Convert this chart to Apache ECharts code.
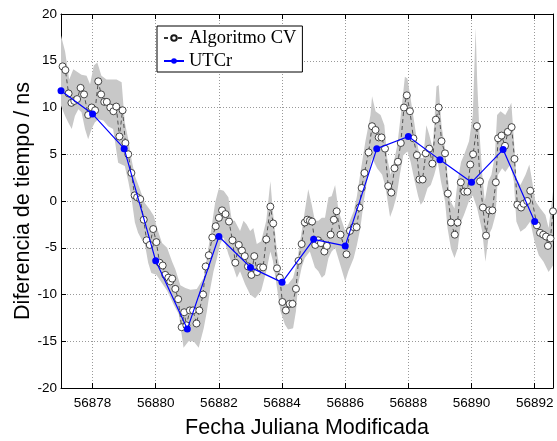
<!DOCTYPE html>
<html>
<head>
<meta charset="utf-8">
<script src="https://cdn.jsdelivr.net/npm/echarts@6/dist/echarts.min.js"></script>
<style>html,body{margin:0;padding:0;background:#fff}#chart{width:557px;height:441px}</style>
</head>
<body>
<div id="chart"></div>
<script>
// ---- Data ----
const cvMJD = [
  56877.05, 56877.14, 56877.24, 56877.33, 56877.42, 56877.51, 56877.62, 56877.73, 56877.86, 56877.97,
  56878.08, 56878.18, 56878.27, 56878.37, 56878.45, 56878.56, 56878.66, 56878.75, 56878.85, 56878.95,
  56879.04, 56879.13, 56879.23, 56879.33, 56879.41, 56879.51, 56879.62, 56879.71, 56879.81, 56879.92,
  56880.02, 56880.12, 56880.22, 56880.30, 56880.40, 56880.46, 56880.52, 56880.62, 56880.71, 56880.82, 56880.90, 56880.97,
  56881.08, 56881.18, 56881.29, 56881.38, 56881.50, 56881.58, 56881.68, 56881.79, 56881.90,
  56882.00, 56882.10, 56882.21, 56882.32, 56882.43, 56882.52, 56882.63, 56882.73, 56882.82, 56882.92,
  56883.03, 56883.12, 56883.21, 56883.31, 56883.40, 56883.50, 56883.63, 56883.72, 56883.84, 56883.93,
  56884.01, 56884.12, 56884.24, 56884.33, 56884.44, 56884.52, 56884.62, 56884.72, 56884.80, 56884.88, 56884.95,
  56885.05, 56885.14, 56885.23, 56885.34, 56885.42, 56885.54, 56885.64, 56885.73, 56885.85,
  56886.04, 56886.15, 56886.27, 56886.36, 56886.45, 56886.52, 56886.61, 56886.74, 56886.85, 56886.96,
  56887.06, 56887.15, 56887.26, 56887.36, 56887.46, 56887.56, 56887.67, 56887.76, 56887.86, 56887.95,
  56888.05, 56888.16, 56888.27, 56888.35, 56888.45, 56888.55, 56888.66, 56888.76, 56888.87, 56888.96,
  56889.05, 56889.16, 56889.25, 56889.35, 56889.47, 56889.56, 56889.66, 56889.77, 56889.87, 56889.96,
  56890.05, 56890.17, 56890.27, 56890.36, 56890.46, 56890.56, 56890.66, 56890.77, 56890.84, 56890.95,
  56891.06, 56891.15, 56891.27, 56891.36, 56891.45, 56891.57, 56891.65, 56891.76, 56891.86,
  56892.07, 56892.17, 56892.27, 56892.36, 56892.42, 56892.50, 56892.58
];
const cvValues = [
  14.4, 14.0, 11.5, 10.5, 10.7, 10.9, 12.1, 11.4, 9.2, 10.0,
  9.7, 12.8, 11.4, 10.6, 10.6, 10.0, 9.6, 10.1, 6.9, 9.7,
  6.2, 5.0, 3.0, 0.6, 0.4, 0.2, -2.0, -4.2, -4.7, -3.0,
  -4.4, -6.6, -6.9, -7.9, -8.2, -8.6, -8.3, -9.4, -10.5, -13.5, -11.9, -13.3,
  -11.7, -11.7, -13.1, -11.7, -10.0, -7.0, -5.8, -3.9, -2.7,
  -1.8, -1.0, -1.4, -2.2, -4.2, -6.6, -4.7, -5.3, -5.9, -7.0,
  -7.9, -5.9, -7.6, -7.1, -7.1, -4.1, -0.6, -2.4, -7.2, -8.2,
  -10.8, -11.7, -11.0, -11.0, -9.4, -6.4, -4.6, -2.3, -2.0, -2.1, -2.2,
  -4.7, -4.2, -4.5, -5.4, -4.8, -3.6, -2.0, -1.1, -3.6,
  -5.7, -3.2, -2.8, -2.8, -0.7, 1.4, 3.0, 5.2, 8.0, 7.6,
  6.8, 6.8, 5.6, 1.6, 0.9, 3.5, 4.2, 6.2, 10.0, 11.3,
  9.6, 6.7, 4.9, 2.3, 2.3, 5.1, 5.6, 4.0, 8.7, 10.0,
  6.4, 5.1, 0.8, -2.3, -3.6, -2.3, 2.0, 1.0, 1.0, 3.9,
  5.0, 8.0, 2.1, -0.7, -3.7, -1.0, -1.0, 2.0, 6.7, 7.0,
  5.9, 7.4, 7.9, 4.5, -0.4, -0.7, -0.3, 0.0, 1.1,
  -2.6, -3.4, -3.6, -3.8, -4.8, -4.0, -1.1
];
const utcrMJD = [56877, 56878, 56879, 56880, 56881, 56882, 56883, 56884, 56885, 56886, 56887, 56888, 56889, 56890, 56891, 56892];
const utcrValues = [11.8, 9.3, 5.6, -6.4, -13.7, -3.8, -7.1, -8.7, -4.1, -4.8, 5.6, 6.9, 4.4, 2.0, 5.5, -2.2];

const bandTopMJD = [
  56877.00, 56877.13, 56877.26, 56877.39, 56877.52, 56877.65, 56877.81, 56877.92, 56878.04, 56878.15,
  56878.28, 56878.44, 56878.60, 56878.76, 56878.92, 56879.02, 56879.13, 56879.23, 56879.34, 56879.50,
  56879.65, 56879.81, 56879.94, 56880.05, 56880.20, 56880.36, 56880.52, 56880.62, 56880.78, 56880.94,
  56881.10, 56881.30, 56881.52, 56881.62, 56881.78, 56881.88, 56881.99, 56882.15, 56882.30, 56882.41,
  56882.50, 56882.67, 56882.78, 56882.88, 56882.99, 56883.09, 56883.20, 56883.34, 56883.50, 56883.63,
  56883.71, 56883.84, 56883.95, 56884.03, 56884.19, 56884.35, 56884.46, 56884.56, 56884.72, 56884.83,
  56884.94, 56885.04, 56885.15, 56885.26, 56885.36, 56885.47, 56885.57, 56885.68, 56885.79, 56885.89,
  56886.00, 56886.10, 56886.27, 56886.37, 56886.48, 56886.64, 56886.80, 56886.85, 56886.96, 56887.12,
  56887.24, 56887.33, 56887.44, 56887.54, 56887.65, 56887.76, 56887.89, 56887.97, 56888.07, 56888.20,
  56888.31, 56888.39, 56888.47, 56888.57, 56888.66, 56888.77, 56888.89, 56888.96, 56889.05, 56889.16,
  56889.24, 56889.33, 56889.46, 56889.56, 56889.67, 56889.76, 56889.92, 56890.04, 56890.13, 56890.18,
  56890.25, 56890.34, 56890.42, 56890.53, 56890.63, 56890.74, 56890.81, 56890.92, 56891.07, 56891.18,
  56891.26, 56891.34, 56891.42, 56891.55, 56891.71, 56891.83, 56891.92, 56892.02, 56892.18, 56892.34,
  56892.44, 56892.58
];
const bandTopValues = [
  17.7, 16.0, 13.0, 14.1, 13.8, 13.5, 13.4, 12.5, 14.5, 14.8,
  13.4, 13.0, 13.0, 13.0, 12.7, 8.4, 6.6, 4.5, 2.7, 1.25,
  -0.2, -0.9, -1.6, -3.0, -4.5, -5.0, -6.5, -7.3, -9.0, -9.3,
  -9.5, -9.4, -8.2, -6.1, -2.5, -0.2, 1.25, 1.1, 0.4, -2.1,
  -2.1, -3.2, -2.1, -2.5, -3.2, -2.9, -4.6, -4.3, -2.1, 2.1,
  -1.1, -5.4, -7.9, -8.9, -8.9, -8.2, -6.8, -4.6, -1.1, 1.25,
  -0.4, -2.1, -2.1, -1.8, -1.8, 0.4, 0.5, 1.7, -1.1, -2.1,
  -3.2, -2.5, -1.1, 0.5, 3.0, 6.4, 9.2, 11.2, 9.6, 9.2,
  8.1, 4.6, 2.8, 4.2, 6.0, 9.2, 13.3, 13.1, 11.0, 8.1,
  5.6, 4.6, 4.6, 8.1, 7.1, 5.6, 12.25, 12.4, 8.1, 5.6,
  2.8, 0.0, -0.8, 2.1, 4.2, 4.9, 6.4, 9.2, 18.5, 12.8,
  7.4, 2.8, 0.0, 2.1, 2.8, 4.9, 9.2, 9.6, 9.2, 9.9,
  10.5, 6.7, 2.4, 1.7, 2.8, 3.9, 2.1, 0.0, -0.8, -1.5,
  -2.9, 1.0
];
const bandBottomMJD = [
  56877.00, 56877.13, 56877.23, 56877.34, 56877.44, 56877.55, 56877.65, 56877.76, 56877.86, 56877.97,
  56878.07, 56878.18, 56878.34, 56878.49, 56878.65, 56878.81, 56878.92, 56879.02, 56879.13, 56879.23,
  56879.34, 56879.44, 56879.55, 56879.65, 56879.76, 56879.86, 56880.02, 56880.20, 56880.36, 56880.57,
  56880.73, 56880.88, 56881.04, 56881.20, 56881.36, 56881.52, 56881.62, 56881.73, 56881.83, 56881.94,
  56882.04, 56882.15, 56882.30, 56882.46, 56882.57, 56882.67, 56882.83, 56882.99, 56883.15, 56883.34,
  56883.50, 56883.63, 56883.71, 56883.84, 56883.95, 56884.09, 56884.19, 56884.35, 56884.44, 56884.51,
  56884.62, 56884.72, 56884.88, 56885.04, 56885.15, 56885.26, 56885.36, 56885.47, 56885.57, 56885.68,
  56885.84, 56886.00, 56886.10, 56886.27, 56886.37, 56886.48, 56886.59, 56886.69, 56886.85, 56887.01,
  56887.17, 56887.28, 56887.42, 56887.52, 56887.63, 56887.73, 56887.84, 56887.97, 56888.07, 56888.20,
  56888.31, 56888.39, 56888.48, 56888.61, 56888.71, 56888.82, 56888.93, 56889.03, 56889.16, 56889.24,
  56889.35, 56889.46, 56889.56, 56889.67, 56889.76, 56889.92, 56890.04, 56890.18, 56890.34, 56890.44,
  56890.55, 56890.65, 56890.76, 56890.84, 56890.97, 56891.07, 56891.23, 56891.34, 56891.42, 56891.55,
  56891.71, 56891.86, 56892.00, 56892.13, 56892.28, 56892.44, 56892.58
];
const bandBottomValues = [
  10.2, 9.1, 8.4, 7.7, 9.1, 9.8, 9.5, 7.7, 6.6, 7.7,
  8.4, 8.75, 8.6, 8.0, 7.7, 4.1, 3.9, 3.75, 2.1, 0.36,
  -2.3, -3.4, -4.1, -4.5, -6.6, -7.7, -7.9, -8.8, -9.6, -11.1,
  -12.1, -15.7, -15.0, -15.0, -15.7, -13.6, -11.8, -9.3, -7.5, -6.1,
  -4.6, -3.9, -5.7, -7.1, -8.2, -7.5, -8.9, -10.0, -10.4, -9.6,
  -7.5, -5.4, -6.4, -9.3, -11.8, -13.2, -13.75, -13.6, -11.8, -8.9,
  -7.1, -6.1, -5.4, -7.1, -7.5, -8.2, -7.9, -6.1, -5.4, -5.0,
  -6.8, -8.6, -7.5, -6.1, -4.7, -2.9, 0.0, 2.1, 4.6, 3.5,
  2.8, 1.4, -1.7, -0.8, 0.6, 2.8, 4.9, 5.3, 4.2, 2.1,
  0.5, -0.4, 0.0, 1.4, 1.7, 2.8, 4.2, 2.1, 0.0, -2.9,
  -5.1, -6.1, -5.1, -2.2, -1.5, 0.0, 0.6, -0.8, -3.3, -6.5,
  -3.6, -2.9, -1.5, 2.8, 3.5, 3.1, 3.9, 2.1, -2.2, -3.3,
  -2.9, -2.2, -4.4, -5.8, -6.5, -7.6, -6.9
];
const xTicks = [56878, 56880, 56882, 56884, 56886, 56888, 56890, 56892];
const xMin = 56877, xMax = 56892.58;
const yMin = -20, yMax = 20, yStep = 5;

// ---- Chart ----
const chart = echarts.init(document.getElementById('chart'), null, {renderer: 'canvas'});
const sans = 'Liberation Sans, Arial, Helvetica, sans-serif';
const cvData = cvMJD.map((t, i) => [t, cvValues[i]]);
const utcrData = utcrMJD.map((t, i) => [t, utcrValues[i]]);

const option = {
  animation: false,
  backgroundColor: '#fff',
  grid: {left: 61, top: 14, right: 4, bottom: 53, containLabel: false, outerBoundsMode: 'none'},
  legend: {
    left: 157, top: 26, orient: 'vertical',
    data: ['Algoritmo CV', 'UTCr'],
    backgroundColor: '#fff', borderColor: '#000', borderWidth: 1,
    padding: [2, 6, 1, 6], itemWidth: 20, itemHeight: 7, itemGap: 3,
    textStyle: {fontFamily: 'Liberation Serif, Times New Roman, serif', fontSize: 18.5, color: '#000', lineHeight: 20}
  },
  xAxis: [{
    type: 'value', min: xMin, max: xMax, position: 'bottom',
    axisLine: {show: true, onZero: false, lineStyle: {color: '#000', width: 1}},
    axisTick: {show: true, inside: true, length: 5, customValues: xTicks, lineStyle: {color: '#000'}},
    axisLabel: {customValues: xTicks, formatter: v => String(v), color: '#000', fontSize: 13.5, fontFamily: sans, margin: 8},
    splitLine: {show: true, lineStyle: {type: [1, 2], color: '#999', width: 1}},
    name: 'Fecha Juliana Modificada', nameLocation: 'middle', nameGap: 29, nameMoveOverlap: false,
    nameTextStyle: {fontSize: 21.5, fontFamily: sans, color: '#000'}
  }, {
    type: 'value', min: xMin, max: xMax, position: 'top',
    axisLine: {show: true, onZero: false, lineStyle: {color: '#000', width: 1}},
    axisTick: {show: true, inside: true, length: 5, customValues: xTicks, lineStyle: {color: '#000'}},
    axisLabel: {show: false, customValues: xTicks},
    splitLine: {show: false}
  }],
  yAxis: [{
    type: 'value', min: yMin, max: yMax, interval: yStep, position: 'left',
    axisLine: {show: true, onZero: false, lineStyle: {color: '#000', width: 1}},
    axisTick: {show: true, inside: true, length: 5, lineStyle: {color: '#000'}},
    axisLabel: {color: '#000', fontSize: 13.5, fontFamily: sans, margin: 4},
    splitLine: {show: true, lineStyle: {type: [1, 2], color: '#999', width: 1}},
    name: 'Diferencia de tiempo / ns', nameLocation: 'middle', nameGap: 27, nameMoveOverlap: false,
    nameTextStyle: {fontSize: 21.5, fontFamily: sans, color: '#000'}
  }, {
    type: 'value', min: yMin, max: yMax, interval: yStep, position: 'right',
    axisLine: {show: true, onZero: false, lineStyle: {color: '#000', width: 1}},
    axisTick: {show: true, inside: true, length: 5, lineStyle: {color: '#000'}},
    axisLabel: {show: false},
    splitLine: {show: false}
  }],
  series: [{
    type: 'custom', name: 'band', silent: true, z: 1,
    xAxisIndex: 0, yAxisIndex: 0,
    data: [[bandTopMJD[0], bandTopValues[0]]],
    renderItem: function (params, api) {
      const pts = [];
      for (let i = 0; i < bandTopMJD.length; i++) pts.push(api.coord([bandTopMJD[i], bandTopValues[i]]));
      for (let i = bandBottomMJD.length - 1; i >= 0; i--) pts.push(api.coord([bandBottomMJD[i], bandBottomValues[i]]));
      return {type: 'polygon', shape: {points: pts}, style: {fill: '#c8c8c8', stroke: null}};
    }
  }, {
    type: 'line', name: 'Algoritmo CV', z: 3,
    data: cvData,
    symbol: 'circle', symbolSize: 7, showAllSymbol: true,
    itemStyle: {color: '#fff', borderColor: '#1a1a1a', borderWidth: 0.8},
    lineStyle: {color: '#333', width: 0.8, type: [4, 3]},
    emphasis: {disabled: true}
  }, {
    type: 'line', name: 'UTCr', z: 4,
    data: utcrData,
    symbol: 'circle', symbolSize: 7, showAllSymbol: true,
    itemStyle: {color: '#0000ff', borderColor: '#0000ff', borderWidth: 0},
    lineStyle: {color: '#0000ff', width: 1.2},
    emphasis: {disabled: true}
  }]
};
chart.setOption(option);
</script>
</body>
</html>
